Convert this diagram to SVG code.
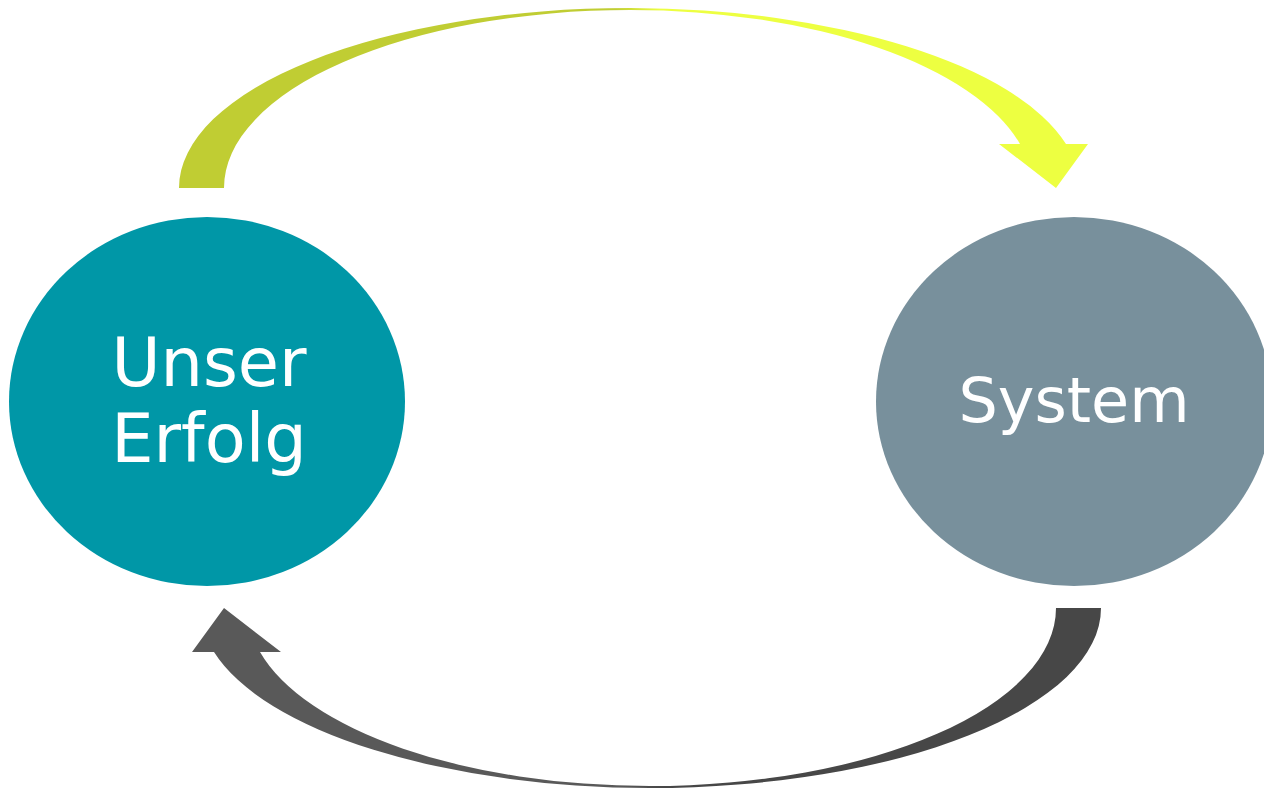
<svg xmlns="http://www.w3.org/2000/svg" width="1264" height="792" viewBox="0 0 1264 792">
  <style>
    .lbl { font-family: "DejaVu Sans", "Noto Sans", sans-serif; font-size: 67px; fill: #ffffff; text-anchor: middle; }
    .sys { font-size: 62px; }
  </style>
  <defs>
    <linearGradient id="gTop" gradientUnits="userSpaceOnUse" x1="179" y1="0" x2="1088" y2="0">
      <stop offset="0.48" stop-color="#C0CD33"/>
      <stop offset="0.53" stop-color="#EDFF41"/>
    </linearGradient>
    <linearGradient id="gBot" gradientUnits="userSpaceOnUse" x1="179" y1="0" x2="1088" y2="0">
      <stop offset="0.48" stop-color="#474747"/>
      <stop offset="0.53" stop-color="#595959"/>
    </linearGradient>
    <path id="arrowShape" d="M 179 188 A 451 180 0 0 1 630 8 A 451 180 0 0 1 1066 144 L 1088 144 L 1056 188 L 999 144 L 1020 144 A 402 178 0 0 0 630 10 A 406 178 0 0 0 224 188 Z"/>
  </defs>
  <rect width="1264" height="792" fill="#ffffff"/>
  <g id="connectors">
    <use href="#arrowShape" fill="url(#gTop)"/>
    <use href="#arrowShape" fill="url(#gBot)" transform="rotate(180 640 398)"/>
  </g>
  <g id="node-erfolg">
    <ellipse cx="207" cy="401.5" rx="198" ry="184.5" fill="#0097A7"/>
    <text class="lbl" x="209" y="386">Unser</text>
    <text class="lbl" x="209" y="462">Erfolg</text>
  </g>
  <g id="node-system">
    <ellipse cx="1074" cy="401.5" rx="198" ry="184.5" fill="#78909C"/>
    <text class="lbl sys" x="1074" y="422">System</text>
  </g>
</svg>
